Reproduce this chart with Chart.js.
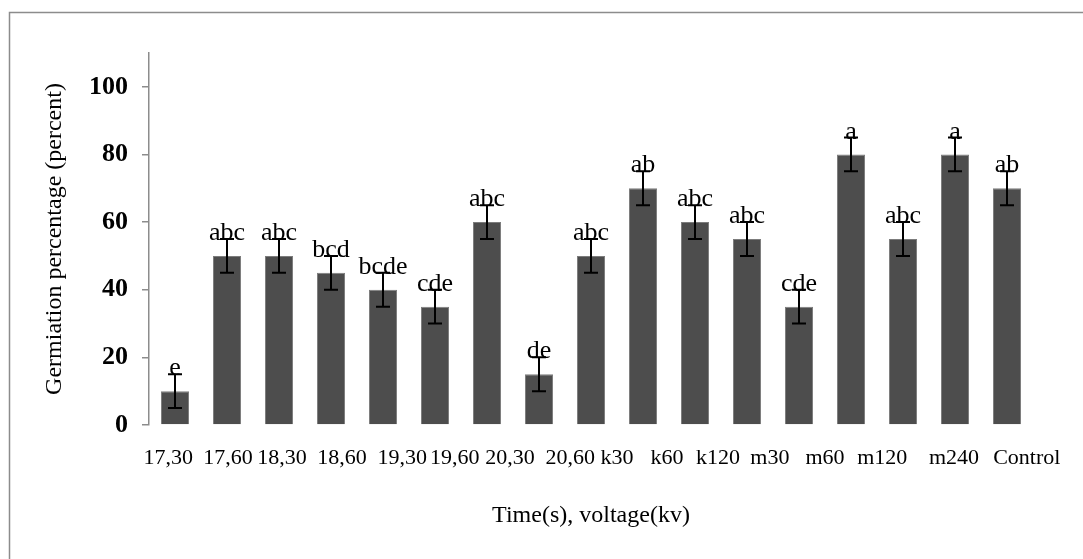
<!DOCTYPE html>
<html>
<head>
<meta charset="utf-8">
<script src="https://cdn.jsdelivr.net/npm/chart.js@4/dist/chart.umd.min.js"></script>
<style>
  html, body { margin: 0; padding: 0; background: #fff; }
  #wrap { width: 1083px; height: 559px; }
</style>
</head>
<body>
<div id="wrap"><canvas id="barChart" width="1083" height="559"></canvas></div>
<script>
// values
var tickLabels = ['17,30', '17,60', '18,30', '18,60', '19,30', '19,60', '20,30', '20,60',
  'k30', 'k60', 'k120', 'm30', 'm60', 'm120', 'm240', 'Control'];
// where each category label sits, in bar-index units (the labels drift off the bars in the original)
var labelSlots = [-0.13, 1.02, 2.06, 3.21, 4.37, 5.38, 6.44, 7.6, 8.5, 9.46, 10.44, 11.44, 12.5, 13.6, 14.98, 16.38];
var values = [10, 50, 50, 45, 40, 35, 60, 15, 50, 70, 60, 55, 35, 80, 55, 80, 70];
var errors = [5, 5, 5, 5, 5, 5, 5, 5, 5, 5, 5, 5, 5, 5, 5, 5, 5];
var letters = ['e', 'abc', 'abc', 'bcd', 'bcde', 'cde', 'abc', 'de', 'abc', 'ab', 'abc', 'abc', 'cde', 'a', 'abc', 'a', 'ab'];
var yTicks = [0, 20, 40, 60, 80, 100];

var serif = "'Liberation Serif', 'Times New Roman', serif";

// outer frame (only top and left edges fall inside the picture)
var framePlugin = {
  id: 'frame',
  beforeDraw: function(chart) {
    var ctx = chart.ctx;
    ctx.save();
    ctx.fillStyle = '#fff';
    ctx.fillRect(0, 0, chart.width, chart.height);
    ctx.strokeStyle = '#8c8c8c';
    ctx.lineWidth = 1.5;
    ctx.strokeRect(9.5, 12.5, chart.width + 20, chart.height + 20);
    ctx.restore();
  }
};

// error bars + significance letters
var errorPlugin = {
  id: 'errorBars',
  afterDatasetsDraw: function(chart) {
    var ctx = chart.ctx;
    var y = chart.scales.y;
    var meta = chart.getDatasetMeta(0);
    ctx.save();
    ctx.strokeStyle = '#000';
    ctx.lineWidth = 2;
    ctx.fillStyle = '#000';
    ctx.font = '26px ' + serif;
    ctx.textAlign = 'center';
    ctx.textBaseline = 'alphabetic';
    meta.data.forEach(function(bar, i) {
      var x = bar.x;
      var top = y.getPixelForValue(values[i] + errors[i]);
      var bot = y.getPixelForValue(values[i] - errors[i]);
      ctx.beginPath();
      ctx.moveTo(x, top); ctx.lineTo(x, bot);
      ctx.moveTo(x - 7, top); ctx.lineTo(x + 7, top);
      ctx.moveTo(x - 7, bot); ctx.lineTo(x + 7, bot);
      ctx.stroke();
      ctx.fillText(letters[i], x, top + 1);
    });
    ctx.restore();
  }
};

new Chart(document.getElementById('barChart').getContext('2d'), {
  type: 'bar',
  data: {
    labels: values.map(function(v, i) { return i; }),
    datasets: [{
      data: values,
      backgroundColor: '#4d4d4d',
      borderColor: '#7c7c7c',
      borderWidth: 1,
      barPercentage: 0.54,
      categoryPercentage: 1
    }]
  },
  options: {
    responsive: false,
    animation: false,
    events: [],
    layout: { padding: { top: 53, right: 50, left: 0, bottom: 0 } },
    plugins: { legend: { display: false }, tooltip: { enabled: false } },
    scales: {
      x: {
        display: false,
        offset: true
      },
      // label row: same index range as the bars, labels placed at labelSlots
      x2: {
        type: 'linear',
        position: 'bottom',
        offset: false,
        min: -0.5,
        max: values.length - 0.5,
        afterBuildTicks: function(scale) {
          scale.ticks = labelSlots.map(function(s) { return { value: s }; });
        },
        grid: { display: false, drawTicks: false, offset: false },
        border: { display: false },
        ticks: {
          color: '#000',
          font: { family: serif, size: 22 },
          padding: 20,
          maxRotation: 0,
          autoSkip: false,
          callback: function(v, i) { return tickLabels[i]; }
        },
        title: {
          display: true,
          text: 'Time(s), voltage(kv)',
          color: '#000',
          font: { family: serif, size: 24 },
          padding: { top: 0, bottom: 29 }
        },
        afterFit: function(scale) { scale.height = 134; }
      },
      y: {
        min: 0,
        max: 110,
        afterBuildTicks: function(scale) {
          scale.ticks = yTicks.map(function(v) { return { value: v }; });
        },
        grid: { drawOnChartArea: false, tickLength: 7, color: '#8c8c8c', lineWidth: 1.5 },
        border: { display: true, color: '#8c8c8c', width: 1.5 },
        ticks: { color: '#000', font: { family: serif, size: 26, weight: 'bold' }, padding: 14 },
        title: {
          display: true,
          text: 'Germiation percentage (percent)',
          color: '#000',
          font: { family: serif, size: 24 },
          padding: { top: 40, bottom: 0 }
        },
        afterFit: function(scale) { scale.width = 149; }
      }
    }
  },
  plugins: [framePlugin, errorPlugin]
});
</script>
</body>
</html>
